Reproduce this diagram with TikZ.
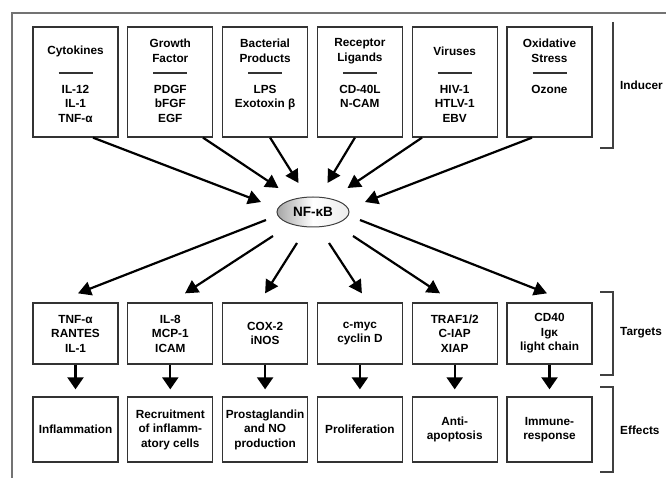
\documentclass[tikz,border=0pt]{standalone}
\usepackage{fontspec}
\setmainfont{Liberation Sans}
\usetikzlibrary{arrows.meta,shapes.geometric}

\tikzset{
	box/.style={draw=black!80, line width=1.3pt, minimum width=85pt, inner sep=0pt, align=center, font=\bfseries\fontsize{11.8}{14.5}\selectfont},
	indbox/.style={box, minimum height=110pt},
	tgtbox/.style={box, minimum height=61pt},
	effbox/.style={box, minimum height=65pt},
	txt/.style={align=center, inner sep=0pt, font=\bfseries\fontsize{11.8}{14.5}\selectfont},
	bigarrow/.style={line width=2.2pt, -{Triangle[length=13pt,width=14pt]}},
	downarrow/.style={line width=2.2pt, -{Triangle[length=12pt,width=16pt]}},
	bracket/.style={line width=1.3pt, draw=black!75},
}

\begin{document}
\begin{tikzpicture}[x=1pt,y=-1pt]
	\useasboundingbox (0,0) rectangle (666,478);
	\draw[black!55, line width=1.2pt] (12,478) -- (12,13) -- (666,13);
	\def\dx{94.8}
	% inducers
	\foreach \i/\t/\l in {1/Cytokines/{IL-12\\IL-1\\TNF-α},2/{Growth\\Factor}/{PDGF\\bFGF\\EGF},3/{Bacterial\\Products}/{LPS\\Exotoxin β},4/{Receptor\\Ligands}/{CD-40L\\N-CAM},5/Viruses/{HIV-1\\HTLV-1\\EBV},6/{Oxidative\\Stress}/Ozone}{
		\pgfmathsetmacro\cx{75.5+(\i-1)*\dx}
		\node[indbox] (ind\i) at (\cx,82) {};
		\node[txt] (indt\i) at (\cx,51) {\t};
		\draw[line width=1.2pt, black!80] (\cx-17,73) -- (\cx+17,73);
		\node[txt, anchor=north] (indl\i) at (\cx,85) {\l};
	}
	\node[ellipse, draw=black!75, line width=1pt, minimum width=72pt, minimum height=30pt, inner sep=0pt, left color=gray!70, right color=gray!15, middle color=white, font=\bfseries\fontsize{13.5}{15}\selectfont] (nfkb) at (313,212) {NF-κB};
	\foreach \i/\s/\ex/\ey in {1/17.5/-52/-10,2/32.7/-34.5/-24,3/5/-14.5/-29,4/-5/14.5/-29,5/-32.7/34.5/-24,6/-17.5/52/-10}{
		\coordinate (in\i) at ([shift={(\ex,\ey)}]nfkb.center);
		\draw[bigarrow] ([xshift=\s pt]ind\i.south) -- (in\i);
	}
	% targets and effects
	\foreach \i/\t/\e in {1/{TNF-α\\RANTES\\IL-1}/Inflammation,2/{IL-8\\MCP-1\\ICAM}/{Recruitment\\of inflamm-\\atory cells},3/{COX-2\\iNOS}/{Prostaglandin\\and NO\\production},4/{c-myc\\cyclin D}/Proliferation,5/{TRAF1/2\\C-IAP\\XIAP}/{Anti-\\apoptosis},6/{CD40\\Igκ\\light chain}/{Immune-\\response}}{
		\pgfmathsetmacro\cx{75.5+(\i-1)*\dx}
		\node[tgtbox] (tgt\i) at (\cx,333.5) {\t};
		\node[effbox] (eff\i) at (\cx,429.5) {\e};
		\draw[downarrow] (tgt\i.south) -- ([yshift=7pt]eff\i.north);
	}
	\foreach \i/\ex/\ey/\tx in {1/-47/8/2.5,2/-40/24/14.7,3/-16/31/0,4/16/31/2,5/40/24/-14.7,6/47/8/-2.5}{
		\coordinate (out\i) at ([shift={(\ex,\ey)}]nfkb.center);
		\draw[bigarrow] (out\i) -- ([shift={(\tx,-9)}]tgt\i.north);
	}
	% brackets
	\draw[bracket] (613,22) -- (613,148) -- (600,148);
	\draw[bracket] (600,292) -- (613,292) -- (613,375) -- (600,375);
	\draw[bracket] (600,387) -- (613,387) -- (613,472) -- (600,472);
	\node[txt, anchor=west] (inducer) at (620,85) {Inducer};
	\node[txt, anchor=west] (targets) at (620,333) {Targets};
	\node[txt, anchor=west] (effects) at (620,430) {Effects};
\end{tikzpicture}
\end{document}
